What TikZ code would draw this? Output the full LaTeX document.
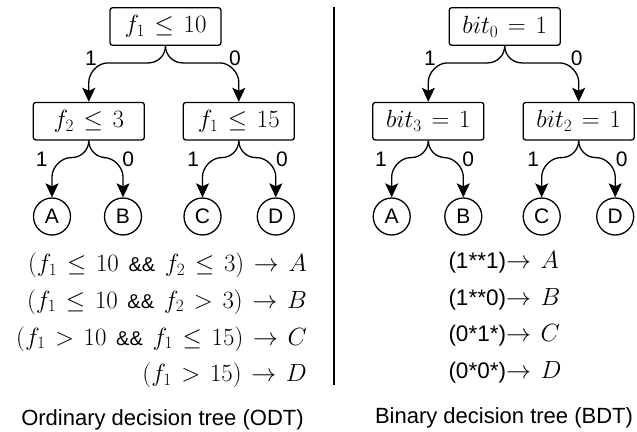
\documentclass[tikz,border=0pt]{standalone}
\usepackage{fontspec}
\setsansfont{Liberation Sans}
\usetikzlibrary{arrows.meta,calc}
\newcommand{\mathsz}{\fontsize{25}{29}\selectfont\thickmuskip=7mu plus 2mu}
\newcommand{\labsz}{\fontsize{21}{25}\selectfont\sffamily}
\newcommand{\andand}{{\fontsize{20}{24}\selectfont\sffamily\&\&}}
\newcommand{\bitpat}[1]{{\fontsize{22.5}{26}\selectfont\sffamily #1}}
\tikzset{
  box/.style={draw, line width=1.3pt, rounded corners=2.5pt, minimum width=111pt,
    minimum height=37.5pt, inner sep=0pt, font=\mathsz},
  leaf/.style={draw, circle, line width=1.3pt, minimum size=37pt, inner sep=0pt, font=\labsz},
  elab/.style={inner sep=0pt, font=\labsz},
  rule/.style={inner sep=0pt, font=\mathsz},
  caption/.style={inner sep=0pt, font=\fontsize{22}{26}\selectfont\sffamily},
  tedge/.style={line width=1.3pt, -{Stealth[length=14pt,width=13pt,inset=3pt]},
    to path={let \p1=(\tikztostart), \p2=(\tikztotarget), \n1={sign(\x2-\x1)} in
      .. controls (\x1,\y1-9.35pt) and ({\x1+\n1*7.65pt},\y1-17pt) .. ({\x1+\n1*17pt},\y1-17pt)
      -- ({\x2-\n1*19pt},\y1-17pt)
      .. controls ({\x2-\n1*8.55pt},\y1-17pt) and (\x2,\y1-27.45pt) .. (\x2,\y1-36pt)
      -- (\p2)}},
  divider/.style={line width=1.6pt}
}
\begin{document}
\begin{tikzpicture}[x=1pt,y=-1pt]
\useasboundingbox (0,0) rectangle (637,431);
% left tree
\node[box] (r1) at (165.5,26.5) {$f_1 \leq 10$};
\node[box] (l1) at (88.8,121.2) {$f_2 \leq 3$};
\node[box] (l2) at (238.8,121.2) {$f_1 \leq 15$};
\node[leaf] (a1) at (52,216.5) {A};
\node[leaf] (b1) at (123,216.5) {B};
\node[leaf] (c1) at (202.5,216.5) {C};
\node[leaf] (d1) at (275.8,216.5) {D};
\draw[tedge] (r1.south) to (l1.north);
\draw[tedge] (r1.south) to (l2.north);
\draw[tedge] (l1.south) to (a1.north);
\draw[tedge] (l1.south) to (b1.north);
\draw[tedge] (l2.south) to (c1.north);
\draw[tedge] (l2.south) to (d1.north);
\node[elab] (t1) at (91,58) {1};
\node[elab] (t2) at (235,58) {0};
\node[elab] (t3) at (41.7,159) {1};
\node[elab] (t4) at (128.3,159) {0};
\node[elab] (t5) at (193.3,159) {1};
\node[elab] (t6) at (282,159) {0};
% right tree
\node[box] (r2) at (504.7,26.5) {$bit_0 = 1$};
\node[box] (m1) at (428.3,121.2) {$bit_3 = 1$};
\node[box] (m2) at (578.7,121.2) {$bit_2 = 1$};
\node[leaf] (a2) at (391.7,216.5) {A};
\node[leaf] (b2) at (463.3,216.5) {B};
\node[leaf] (c2) at (541.7,216.5) {C};
\node[leaf] (d2) at (615.2,216.5) {D};
\draw[tedge] (r2.south) to (m1.north);
\draw[tedge] (r2.south) to (m2.north);
\draw[tedge] (m1.south) to (a2.north);
\draw[tedge] (m1.south) to (b2.north);
\draw[tedge] (m2.south) to (c2.north);
\draw[tedge] (m2.south) to (d2.north);
\node[elab] (s1) at (430,58) {1};
\node[elab] (s2) at (576.7,58) {0};
\node[elab] (s3) at (381,159) {1};
\node[elab] (s4) at (468.3,159) {0};
\node[elab] (s5) at (533.3,159) {1};
\node[elab] (s6) at (621.7,159) {0};
% divider
\coordinate (dtop) at (334,7);
\coordinate (dbot) at (334,385);
\draw[divider] (dtop) -- (dbot);
% rules left
\node[rule, anchor=base east] (p1) at (307,271.7) {$(f_1 \leq 10\;$\andand$\; f_2 \leq 3) \rightarrow A$};
\node[rule, anchor=base east] (p2) at (307,308) {$(f_1 \leq 10\;$\andand$\; f_2 > 3) \rightarrow B$};
\node[rule, anchor=base east] (p3) at (307,345) {$(f_1 > 10\;$\andand$\; f_1 \leq 15) \rightarrow C$};
\node[rule, anchor=base east] (p4) at (307,381.7) {$(f_1 > 15) \rightarrow D$};
% rules right
\node[rule, anchor=base west] (q1) at (448.3,268.3) {\bitpat{(1**1)}$\rightarrow A$};
\node[rule, anchor=base west] (q2) at (448.3,305) {\bitpat{(1**0)}$\rightarrow B$};
\node[rule, anchor=base west] (q3) at (448.3,341.7) {\bitpat{(0*1*)}$\rightarrow C$};
\node[rule, anchor=base west] (q4) at (448.3,378.3) {\bitpat{(0*0*)}$\rightarrow D$};
% captions
\node[caption, anchor=base] (cap1) at (162.5,425) {Ordinary decision tree (ODT)};
\node[caption, anchor=base] (cap2) at (504,423.5) {Binary decision tree (BDT)};
\end{tikzpicture}
\end{document}
